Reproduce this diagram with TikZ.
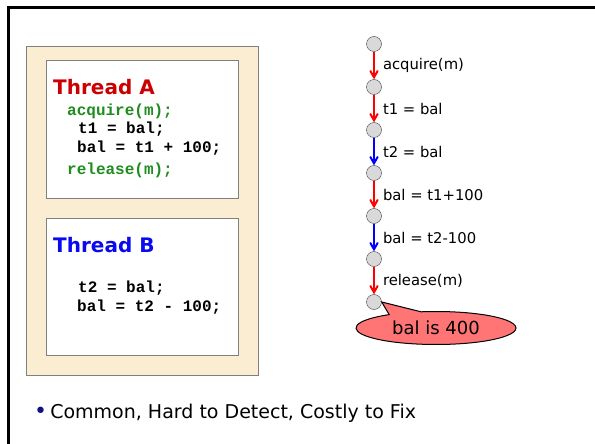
\documentclass[tikz,border=0pt]{standalone}
\usepackage{fontspec}
\setmainfont{DejaVu Sans}
\newfontfamily\codefont{Liberation Mono}
\usetikzlibrary{shapes,arrows,positioning,calc}
\definecolor{paper}{HTML}{FAEDD1}
\definecolor{codegreen}{HTML}{1E8C1E}
\definecolor{titlered}{HTML}{CC0000}
\definecolor{titleblue}{HTML}{0A0AEE}
\definecolor{notered}{HTML}{FF7575}
\definecolor{dotblue}{HTML}{101080}
\tikzset{
  threadbox/.style={rectangle, draw=gray, fill=white, minimum width=192pt, minimum height=137pt, inner sep=0},
  title/.style={anchor=base west, inner sep=0, font=\bfseries\fontsize{20}{22}\selectfont},
  code/.style={anchor=base west, inner sep=0, font=\codefont\bfseries\fontsize{16}{18}\selectfont},
  state/.style={circle, draw=gray!50!black, fill=gray!30, minimum size=15pt, inner sep=0},
  stepname/.style={midway, anchor=west, inner sep=0, xshift=8pt, text=black, font=\fontsize{14.8}{16}\selectfont}
}

\begin{document}
\begin{tikzpicture}[x=1pt,y=-1pt,>=angle 60]
\useasboundingbox (0,0) rectangle (595,444);
\draw[line width=3pt] (8,444) -- (8,8) -- (595,8);

\node[rectangle, draw=gray, fill=paper, minimum width=232pt, minimum height=329pt, inner sep=0] (panel) at (142,210.5) {};
\node[threadbox, minimum height=138pt] (boxA) at (142,129) {};
\node[threadbox] (boxB) at (142,286.5) {};

\node[title, text=titlered] (titleA) at (53,95) {Thread A};
\node[code, text=codegreen] (acqA) at (67,116) {acquire(m);};
\node[code] (readA) at (78,134) {t1 = bal;};
\node[code] (writeA) at (77,153) {bal = t1 + 100;};
\node[code, text=codegreen] (relA) at (67,175) {release(m);};

\node[title, text=titleblue] (titleB) at (53,252) {Thread B};
\node[code] (readB) at (78,292) {t2 = bal;};
\node[code] (writeB) at (77,311) {bal = t2 - 100;};

\foreach \i in {0,...,6}
  \node[state] (s\i) at (374,44+43*\i) {};
\foreach \a/\b/\c/\t in {0/1/red/acquire(m), 1/2/red/t1 = bal, 2/3/blue/t2 = bal,
                         3/4/red/bal = t1+100, 4/5/blue/bal = t2-100, 5/6/red/release(m)}
  \draw[->, line width=2pt, \c] (s\a) -- (s\b) node[stepname] (l\a) {\t};

\node[ellipse callout, draw, line width=1pt, fill=notered, minimum width=160pt, minimum height=33pt,
      callout absolute pointer={(s6.east)}, callout pointer arc=25,
      font=\fontsize{18}{20}\selectfont] (note) at (436,328) {bal is 400};

\node[anchor=base west, inner sep=0, font=\fontsize{19}{22}\selectfont] (point) at (34,418)
  {{\color{dotblue}\fontsize{22}{22}\selectfont•}\,Common, Hard to Detect, Costly to Fix};
\end{tikzpicture}
\end{document}
